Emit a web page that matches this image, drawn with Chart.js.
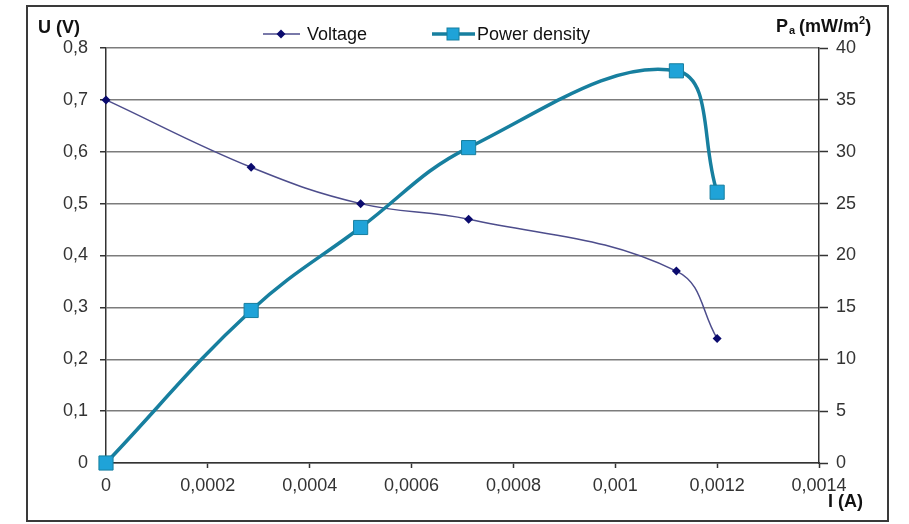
<!DOCTYPE html>
<html lang="en">
<head>
  <meta charset="UTF-8">
  <title>Voltage and power density vs current</title>
  <style>
    html, body { margin: 0; padding: 0; background: #fff; }
  </style>
</head>
<body>
<canvas id="chart" width="909" height="524"></canvas>

<script src="https://cdn.jsdelivr.net/npm/chart.js"></script>
<script>
  // measured points, I (A)
  const current = [0, 0.000285, 0.0005, 0.000712, 0.00112, 0.0012];
  const voltage = [0.70, 0.57, 0.50, 0.47, 0.37, 0.24];
  const powerDensity = [0, 14.7, 22.7, 30.4, 37.8, 26.1];

  const xTicks = [0, 0.0002, 0.0004, 0.0006, 0.0008, 0.001, 0.0012, 0.0014];
  const xTickLabels = ['0', '0,0002', '0,0004', '0,0006', '0,0008', '0,001', '0,0012', '0,0014'];
  const uTicks = [0, 0.1, 0.2, 0.3, 0.4, 0.5, 0.6, 0.7, 0.8];
  const uTickLabels = ['0', '0,1', '0,2', '0,3', '0,4', '0,5', '0,6', '0,7', '0,8'];
  const pTicks = [0, 5, 10, 15, 20, 25, 30, 35, 40];

  const FONT = '"Liberation Sans", Arial, sans-serif';
  Chart.defaults.font.family = FONT;

  function fixedTicks(values) {
    return function(scale) {
      scale.ticks = values.map(v => ({ value: v }));
    };
  }

  // frame, axis titles and the line+marker legend
  const decorations = {
    id: 'decorations',
    afterDraw(chart) {
      const ctx = chart.ctx;
      ctx.save();
      ctx.strokeStyle = '#3a3a3a';
      ctx.lineWidth = 2;
      ctx.strokeRect(27, 6, 861, 515);

      ctx.fillStyle = '#111';
      ctx.textBaseline = 'middle';
      ctx.textAlign = 'left';
      ctx.font = 'bold 18px ' + FONT;
      ctx.fillText('U (V)', 38, 28);
      ctx.fillText('I (A)', 828, 502);

      let x = 776;
      ctx.fillText('P', x, 27);
      x += ctx.measureText('P').width;
      ctx.font = 'bold 11px ' + FONT;
      ctx.fillText('a', x + 1, 31);
      x += ctx.measureText('a').width + 5;
      ctx.font = 'bold 18px ' + FONT;
      ctx.fillText('(mW/m', x, 27);
      x += ctx.measureText('(mW/m').width;
      ctx.font = 'bold 11px ' + FONT;
      ctx.fillText('2', x, 21);
      x += ctx.measureText('2').width;
      ctx.font = 'bold 18px ' + FONT;
      ctx.fillText(')', x, 27);

      // legend
      const v = chart.data.datasets[0];
      const p = chart.data.datasets[1];
      const ly = 34;
      ctx.strokeStyle = v.borderColor;
      ctx.lineWidth = v.borderWidth;
      ctx.beginPath(); ctx.moveTo(263, ly); ctx.lineTo(300, ly); ctx.stroke();
      ctx.fillStyle = v.pointBackgroundColor;
      ctx.beginPath();
      ctx.moveTo(281, ly - 4.5); ctx.lineTo(285.5, ly); ctx.lineTo(281, ly + 4.5); ctx.lineTo(276.5, ly);
      ctx.closePath(); ctx.fill();

      ctx.strokeStyle = p.borderColor;
      ctx.lineWidth = p.borderWidth;
      ctx.beginPath(); ctx.moveTo(432, ly); ctx.lineTo(475, ly); ctx.stroke();
      ctx.fillStyle = p.pointBackgroundColor;
      ctx.fillRect(447, ly - 6, 12, 12);
      ctx.lineWidth = 1;
      ctx.strokeRect(447, ly - 6, 12, 12);

      ctx.fillStyle = '#111';
      ctx.font = '18px ' + FONT;
      ctx.fillText('Voltage', 307, ly + 1);
      ctx.fillText('Power density', 477, ly + 1);
      ctx.restore();
    }
  };

  const ctx = document.getElementById('chart').getContext('2d');
  new Chart(ctx, {
    type: 'scatter',
    data: {
      datasets: [{
        label: 'Voltage',
        data: current.map((c, i) => ({ x: c, y: voltage[i] })),
        yAxisID: 'u',
        showLine: true,
        tension: 0.4,
        borderColor: '#4d4d8c',
        borderWidth: 1.5,
        pointStyle: 'rectRot',
        pointRadius: 4.5,
        pointBackgroundColor: '#0b0b6e',
        pointBorderColor: '#0b0b6e',
        pointBorderWidth: 0,
        clip: false,
        order: 1
      }, {
        label: 'Power density',
        data: current.map((c, i) => ({ x: c, y: powerDensity[i] })),
        yAxisID: 'p',
        showLine: true,
        tension: 0.4,
        borderColor: '#177f9f',
        borderWidth: 3.5,
        pointStyle: 'rect',
        pointRadius: 10,
        pointBackgroundColor: '#1fa3d8',
        pointBorderColor: '#177f9f',
        pointBorderWidth: 1,
        clip: false,
        order: 0
      }]
    },
    options: {
      responsive: false,
      animation: false,
      events: [],
      layout: { padding: { top: 48, left: 0, right: 0, bottom: 0 } },
      plugins: {
        legend: { display: false },
        tooltip: { enabled: false }
      },
      scales: {
        x: {
          type: 'linear',
          min: 0,
          max: 0.0014,
          afterBuildTicks: fixedTicks(xTicks),
          afterFit(scale) { scale.height = 61; },
          grid: { drawOnChartArea: false, tickLength: 5, tickColor: '#333', tickWidth: 1.5 },
          border: { color: '#333', width: 1.5 },
          ticks: {
            padding: 7,
            color: '#333',
            font: { size: 18 },
            maxRotation: 0,
            callback: (value, index) => xTickLabels[index]
          }
        },
        u: {
          position: 'left',
          min: 0,
          max: 0.8,
          afterBuildTicks: fixedTicks(uTicks),
          afterFit(scale) { scale.width = 106; },
          grid: { color: '#7c7c7c', lineWidth: 1.5, tickLength: 6, tickColor: '#333', tickWidth: 1.5 },
          border: { color: '#333', width: 1.5 },
          ticks: {
            padding: 12,
            color: '#333',
            font: { size: 18 },
            callback: (value, index) => uTickLabels[index]
          }
        },
        p: {
          position: 'right',
          min: 0,
          max: 40,
          afterBuildTicks: fixedTicks(pTicks),
          afterFit(scale) { scale.width = 90; },
          grid: { drawOnChartArea: false, tickLength: 9, tickColor: '#333', tickWidth: 1.5 },
          border: { color: '#333', width: 1.5 },
          ticks: {
            padding: 8,
            color: '#333',
            font: { size: 18 },
            callback: (value, index) => String(pTicks[index])
          }
        }
      }
    },
    plugins: [decorations]
  });
</script>
</body>
</html>
